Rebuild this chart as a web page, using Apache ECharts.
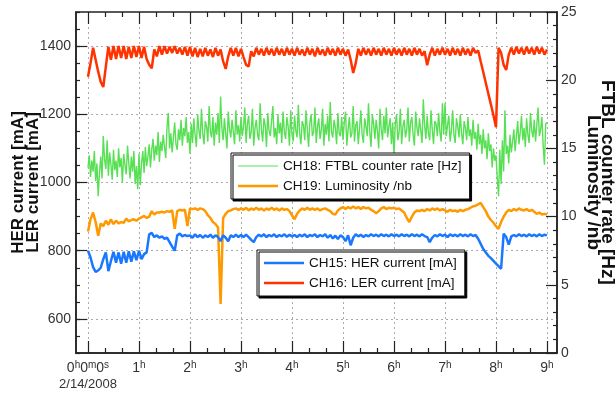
<!DOCTYPE html>
<html>
<head>
<meta charset="utf-8">
<script src="https://cdn.jsdelivr.net/npm/echarts@6/dist/echarts.min.js"></script>
<style>
html, body { margin: 0; padding: 0; background: #fff; }
#main { width: 615px; height: 398px; }
</style>
</head>
<body>
<div id="main"></div>
<script>
// logger samples every 3 minutes (FTBL every 1.5 minutes), starting 2/14/2008 0h0m0s
const STEP = 0.05;
const FTBL_STEP = 0.025;
const hourTicks = [0, 1, 2, 3, 4, 5, 6, 7, 8, 9];
const leftTicks = [600, 800, 1000, 1200, 1400];
const startDate = '2/14/2008';

// CH15: HER current [mA]
const herCurrent = [
  800, 780, 752, 738, 742, 750, 775, 795, 740, 770, 797, 765, 795, 762, 797, 765, 798, 768, 798, 772,
  800, 775, 790, 795, 848, 852, 840, 845, 838, 842, 835, 838, 825, 812, 800, 845, 850, 842, 846, 843,
  845, 838, 848, 840, 846, 838, 845, 840, 847, 838, 845, 840, 828, 845, 838, 828, 845, 840, 847, 840,
  846, 840, 847, 840, 832, 825, 840, 847, 842, 848, 840, 846, 842, 848, 840, 846, 842, 848, 841, 847,
  842, 846, 840, 847, 842, 848, 840, 846, 843, 848, 840, 846, 842, 848, 838, 846, 836, 844, 834, 845,
  840, 828, 845, 816, 838, 848, 842, 847, 840, 846, 842, 848, 843, 847, 842, 848, 843, 847, 842, 848,
  843, 847, 842, 848, 843, 847, 842, 848, 843, 847, 842, 848, 843, 840, 825, 838, 846, 842, 848, 843,
  847, 840, 848, 843, 847, 842, 848, 843, 847, 842, 848, 843, 846, 835, 820, 805, 795, 785, 778, 770,
  762, 755, 747, 850, 840, 818, 842, 846, 842, 848, 843, 847, 842, 848, 843, 847, 842, 848, 843, 847,
  845
];

// CH16: LER current [mA]
const lerCurrent = [
  1310, 1350, 1395, 1360, 1325, 1295, 1280, 1340, 1398, 1360, 1400, 1362, 1400, 1365, 1400, 1362, 1398, 1365, 1400, 1368,
  1400, 1365, 1398, 1362, 1345, 1335, 1390, 1370, 1400, 1375, 1400, 1378, 1398, 1380, 1400, 1378, 1395, 1375, 1398, 1372,
  1398, 1370, 1395, 1368, 1392, 1370, 1395, 1372, 1390, 1368, 1395, 1372, 1390, 1355, 1333, 1370, 1395, 1372, 1395, 1370,
  1392, 1368, 1345, 1340, 1385, 1370, 1395, 1375, 1392, 1372, 1395, 1375, 1392, 1372, 1395, 1375, 1392, 1372, 1395, 1375,
  1392, 1372, 1395, 1375, 1390, 1372, 1395, 1375, 1392, 1370, 1395, 1375, 1390, 1372, 1395, 1375, 1392, 1372, 1395, 1375,
  1392, 1372, 1390, 1360, 1321, 1350, 1392, 1372, 1395, 1375, 1392, 1372, 1395, 1375, 1392, 1372, 1395, 1375, 1392, 1372,
  1395, 1375, 1392, 1372, 1395, 1375, 1392, 1372, 1395, 1375, 1392, 1372, 1385, 1344, 1375, 1395, 1372, 1392, 1375, 1395,
  1375, 1392, 1372, 1395, 1375, 1392, 1372, 1395, 1375, 1392, 1372, 1395, 1380, 1387, 1355, 1324, 1292, 1260, 1229, 1197,
  1162, 1395, 1380, 1345, 1330, 1375, 1395, 1375, 1398, 1378, 1395, 1375, 1398, 1378, 1395, 1375, 1398, 1378, 1395, 1375,
  1390
];

// CH18: FTBL counter rate [Hz], one row per half hour
const ftblRate = [
  13.6, 14.5, 12.9, 14.1, 13.3, 14.8, 12.6, 13.9, 11.5, 13.2, 14.4, 12.8, 15.9, 14.2, 13.5, 15.6, 13.0, 14.7, 13.8, 12.7,
  14.9, 13.4, 14.1, 12.9, 15.0, 13.6, 14.3, 12.5, 14.6, 13.8, 13.1, 15.2, 13.9, 12.8, 14.4, 13.3, 14.8, 12.4, 13.7, 12.0,
  14.6, 12.3, 13.9, 14.8, 13.2, 15.1, 13.7, 14.4, 15.3, 13.6, 14.9, 15.7, 14.1, 15.2, 14.5, 16.2, 14.0, 15.5, 14.8, 16.0,
  15.1, 14.3, 16.6, 17.6, 15.0, 16.1, 14.7, 15.8, 16.9, 15.3, 14.9, 16.4, 15.6, 17.1, 15.2, 16.5, 15.9, 17.3, 15.4, 16.2,
  14.6, 16.8, 15.4, 17.2, 16.0, 15.1, 17.5, 16.3, 15.7, 17.9, 16.1, 15.3, 17.0, 16.6, 15.5, 18.1, 16.2, 15.8, 17.3, 15.2,
  16.9, 16.0, 17.6, 15.4, 18.8, 16.5, 15.6, 17.2, 16.1, 15.0, 17.7, 16.4, 15.8, 17.1, 16.2, 15.3, 17.8, 16.0, 16.7, 15.5,
  17.3, 15.9, 16.6, 18.0, 15.4, 16.8, 17.4, 15.7, 16.2, 17.9, 15.2, 16.5, 17.1, 16.0, 15.6, 18.3, 16.4, 15.5, 17.2, 16.7,
  15.1, 17.6, 16.3, 15.9, 17.0, 18.1, 15.8, 16.5, 15.3, 17.5, 16.1, 16.9, 15.4, 17.7, 16.2, 15.7, 17.3, 16.6, 15.2, 17.8,
  16.0, 15.5, 17.4, 16.3, 15.8, 18.2, 16.1, 15.3, 17.0, 16.7, 15.6, 17.8, 16.4, 15.1, 16.9, 17.5, 15.9, 16.2, 18.0, 15.4,
  16.6, 17.2, 15.7, 16.3, 17.9, 15.2, 16.8, 16.0, 17.4, 15.5, 18.4, 16.2, 15.8, 17.1, 16.5, 15.3, 17.6, 16.1, 15.9, 17.3,
  15.6, 16.9, 17.7, 15.2, 16.4, 17.3, 15.8, 16.1, 18.1, 15.5, 16.7, 17.0, 15.3, 16.5, 17.8, 16.0, 15.4, 17.2, 16.6, 15.9,
  18.3, 16.2, 15.1, 17.5, 16.8, 15.7, 17.1, 16.3, 15.0, 17.9, 16.4, 15.6, 17.4, 16.1, 18.0, 15.8, 16.6, 17.2, 15.3, 16.9,
  14.4, 16.8, 17.5, 15.6, 16.2, 17.9, 15.3, 16.6, 17.1, 15.8, 16.4, 18.0, 15.5, 16.9, 17.3, 16.0, 15.2, 17.7, 16.5, 15.9,
  17.2, 16.3, 15.4, 18.6, 16.7, 15.7, 17.4, 16.1, 15.6, 17.8, 16.4, 15.3, 17.0, 16.8, 15.9, 17.6, 16.2, 15.5, 18.3, 16.0,
  18.3, 15.9, 16.7, 17.4, 15.5, 16.3, 17.8, 16.0, 15.4, 17.2, 16.6, 15.8, 17.5, 16.1, 15.3, 17.0, 16.5, 15.6, 17.3, 15.9,
  16.4, 15.2, 17.1, 15.7, 16.2, 14.9, 16.8, 15.3, 16.0, 14.6, 16.4, 15.0, 15.6, 14.2, 16.1, 14.8, 15.3, 13.6, 15.0, 14.1,
  14.5, 12.8, 11.5, 14.9, 12.4, 15.6, 13.3, 17.8, 14.6, 15.2, 13.9, 16.0, 14.7, 15.5, 16.4, 14.8, 15.9, 17.0, 15.3, 16.2,
  17.4, 15.6, 16.5, 15.1, 17.2, 16.0, 15.4, 17.6, 16.3, 15.8, 17.1, 15.5, 16.7, 18.0, 15.9, 16.4, 17.3, 15.2, 13.8, 16.8,
  16.9
];

// CH19: Luminosity /nb
const luminosity = [
  8.9, 9.8, 10.3, 9.6, 8.6, 9.5, 9.3, 9.7, 9.4, 9.8, 9.45, 9.7, 9.5, 9.6, 9.55, 9.85, 9.65, 9.75, 9.8, 9.7,
  9.85, 9.95, 10.05, 9.9, 10.0, 10.4, 10.15, 10.3, 10.3, 10.35, 10.3, 10.4, 10.35, 10.45, 9.1, 10.4, 10.5, 10.45, 10.5, 9.3,
  10.6, 10.55, 10.6, 10.5, 10.6, 10.55, 10.4, 10.1, 9.9, 9.6, 9.45, 9.2, 3.6, 9.9, 10.2, 10.4, 10.45, 10.55, 10.6, 10.5,
  10.6, 10.5, 10.65, 10.45, 10.6, 10.5, 10.65, 10.5, 10.6, 10.45, 10.6, 10.5, 10.65, 10.5, 10.6, 10.45, 10.6, 10.5, 10.55, 10.4,
  10.1, 9.8, 10.2, 10.45, 10.6, 10.5, 10.65, 10.5, 10.6, 10.5, 10.6, 10.45, 10.55, 10.6, 10.5, 10.4, 10.2, 10.15, 10.45, 10.6,
  10.7, 10.55, 10.7, 10.6, 10.75, 10.6, 10.7, 10.55, 10.7, 10.6, 10.65, 10.5, 10.4, 10.25, 10.4, 10.6, 10.7, 10.55, 10.65, 10.6,
  10.65, 10.55, 10.6, 10.45, 10.3, 9.9, 9.6, 10.0, 10.3, 10.45, 10.4, 10.5, 10.4, 10.55, 10.45, 10.6, 10.5, 10.6, 10.45, 10.55,
  10.45, 10.35, 10.5, 10.4, 10.45, 10.35, 10.5, 10.4, 10.5, 10.55, 10.65, 10.75, 10.8, 10.9, 11.0, 10.7, 10.4, 10.0, 9.75, 9.55,
  9.3, 9.1, 9.6, 10.0, 10.3, 10.5, 10.4, 10.55, 10.45, 10.6, 10.5, 10.45, 10.55, 10.4, 10.5, 10.35, 10.2, 10.3, 10.15, 10.2,
  10.15
];

const FONT = "'Liberation Sans', Arial, sans-serif";
const INK = '#222';
const LABEL = '#333';

function toPoints(values, step) {
  return values.map((v, i) => [i * step, v]);
}

// 20 minute sub ticks between the hours
const minorHours = [];
hourTicks.slice(0, -1).forEach(h => { minorHours.push(h + 1 / 3, h + 2 / 3); });

const xMin = -0.235, xMax = 9.196;

function hourAxis(position, ticks, len, withLabels) {
  return {
    type: 'value',
    position: position,
    min: xMin,
    max: xMax,
    axisLine: {show: withLabels, onZero: false, lineStyle: {color: INK, width: 1.5}},
    axisTick: {show: true, inside: true, length: len, customValues: ticks, lineStyle: {color: INK, width: 1.2}},
    axisLabel: withLabels ? {
      customValues: hourTicks,
      margin: 7,
      color: LABEL,
      fontFamily: FONT,
      formatter: v => v === 0
        ? '{n|0}{s|h}{n|0}{s|m}{n|0}{s|s}\n{d|' + startDate + '}'
        : '{n|' + v + '}{s|h}',
      rich: {
        n: {fontSize: 14, fontFamily: FONT, color: LABEL, lineHeight: 16},
        s: {fontSize: 10, fontFamily: FONT, color: LABEL, verticalAlign: 'top', lineHeight: 10},
        d: {fontSize: 13, fontFamily: FONT, color: LABEL, lineHeight: 17}
      }
    } : {show: false},
    splitLine: {show: withLabels, lineStyle: {color: '#aaa', type: [2, 3], width: 1}}
  };
}

// legend samples are plain strokes, not symbols
const thinStroke = 'path://M0 0H40V1H0Z';
const thickStroke = 'path://M0 0H40V2.6H0Z';

function legendBox(items, left, top) {
  return {
    data: items,
    left: left, top: top,
    orient: 'vertical',
    padding: [6, 8, 6, 7],
    itemWidth: 40, itemHeight: 12, itemGap: 6,
    symbolKeepAspect: true,
    backgroundColor: '#fff', borderColor: '#111', borderWidth: 1,
    shadowColor: '#000', shadowOffsetX: 2, shadowOffsetY: 2, shadowBlur: 0,
    selectedMode: false,
    textStyle: {fontSize: 13.5, fontFamily: FONT, color: '#111'}
  };
}

const option = {
  animation: false,
  grid: {
    left: 76, right: 58, top: 12, bottom: 45,
    show: true, borderColor: INK, borderWidth: 1.5,
    outerBoundsMode: 'none'
  },
  legend: [
    legendBox([
      {name: 'CH18: FTBL counter rate [Hz]', icon: thinStroke},
      {name: 'CH19: Luminosity /nb', icon: thickStroke}
    ], 231, 153),
    legendBox([
      {name: 'CH15: HER current [mA]', icon: thickStroke},
      {name: 'CH16: LER current [mA]', icon: thickStroke}
    ], 257, 250)
  ],
  xAxis: [
    hourAxis('bottom', hourTicks, 12, true),
    hourAxis('bottom', minorHours, 5, false),
    hourAxis('top', hourTicks, 12, false),
    hourAxis('top', minorHours, 5, false)
  ],
  yAxis: [
    {
      type: 'value', position: 'left', min: 500, max: 1500,
      name: 'HER current [mA]\nLER current [mA]',
      nameLocation: 'middle', nameGap: 35, nameMoveOverlap: false,
      nameTextStyle: {fontSize: 17, fontWeight: 'bold', fontFamily: FONT, color: '#111', lineHeight: 15},
      axisLine: {show: true, onZero: false, lineStyle: {color: INK, width: 1.5}},
      axisTick: {inside: true, length: 11, customValues: leftTicks, lineStyle: {color: INK, width: 1.2}},
      axisLabel: {customValues: leftTicks, margin: 5, color: LABEL, fontSize: 14, fontFamily: FONT, formatter: v => String(v)},
      splitLine: {show: true, lineStyle: {color: '#aaa', type: [2, 3], width: 1}}
    },
    {
      type: 'value', position: 'left', min: 500, max: 1500, interval: 50,
      axisLine: {show: false, onZero: false},
      axisTick: {inside: true, length: 4, lineStyle: {color: INK, width: 1.2}},
      axisLabel: {show: false},
      splitLine: {show: false}
    },
    {
      type: 'value', position: 'right', min: 0, max: 25, interval: 5,
      name: 'FTBL counter rate [Hz]\nLuminosity /nb',
      nameLocation: 'middle', nameGap: 29, nameRotate: -90, nameMoveOverlap: false,
      nameTextStyle: {fontSize: 19, fontWeight: 'bold', fontFamily: FONT, color: '#111', lineHeight: 14},
      axisLine: {show: true, onZero: false, lineStyle: {color: INK, width: 1.5}},
      axisTick: {inside: true, length: 11, lineStyle: {color: INK, width: 1.2}},
      minorTick: {show: true, splitNumber: 5, length: 4, lineStyle: {color: INK, width: 1.2}},
      axisLabel: {margin: 4, color: LABEL, fontSize: 14, fontFamily: FONT},
      splitLine: {show: false}
    }
  ],
  series: [
    {
      name: 'CH18: FTBL counter rate [Hz]', type: 'line', yAxisIndex: 2,
      symbol: 'none', color: '#58e054',
      lineStyle: {width: 1.4},
      data: toPoints(ftblRate, FTBL_STEP)
    },
    {
      name: 'CH19: Luminosity /nb', type: 'line', yAxisIndex: 2,
      symbol: 'none', color: '#ff9900',
      lineStyle: {width: 2.5},
      data: toPoints(luminosity, STEP)
    },
    {
      name: 'CH15: HER current [mA]', type: 'line', yAxisIndex: 0,
      symbol: 'none', color: '#1a78ff',
      lineStyle: {width: 2.5},
      data: toPoints(herCurrent, STEP)
    },
    {
      name: 'CH16: LER current [mA]', type: 'line', yAxisIndex: 0,
      symbol: 'none', color: '#ff3300',
      lineStyle: {width: 2.5},
      data: toPoints(lerCurrent, STEP)
    }
  ]
};

let myChart = echarts.init(document.getElementById('main'));
myChart.setOption(option);
</script>
</body>
</html>
